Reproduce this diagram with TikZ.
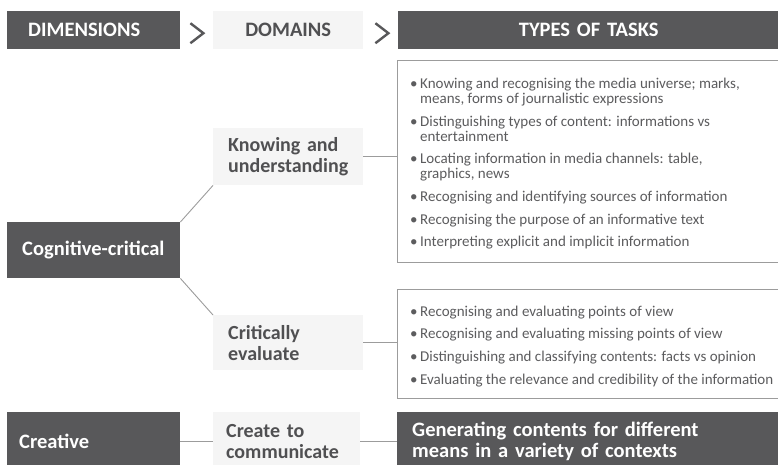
\documentclass[tikz,border=0pt]{standalone}
\usepackage{fontspec}
\setmainfont{Carlito}
\usepackage{tikz}
\usetikzlibrary{positioning,calc}
\definecolor{darkbox}{HTML}{58585A}
\definecolor{lightbox}{HTML}{F5F5F5}
\definecolor{boxtext}{HTML}{505052}
\definecolor{listtext}{HTML}{5C5C5E}
\definecolor{rulegray}{HTML}{9C9C9C}

\newenvironment{tasklist}{\begin{minipage}{368pt}\fontsize{15}{15}\selectfont\raggedright\setlength{\parskip}{7.7pt}\vspace*{5pt}}{\end{minipage}}
\newcommand{\taskitem}[1]{\par\hangindent=10pt\hangafter=1\noindent\makebox[10pt][l]{\textbullet}#1}

\begin{document}
\begin{tikzpicture}
[x=1pt,y=-1pt]
\tikzset{
	darkbox/.style = {rectangle, fill=darkbox, text=white, anchor=north west, inner ysep=0pt, align=left, font=\bfseries\fontsize{20.5}{21}\selectfont},
	lightbox/.style = {rectangle, fill=lightbox, text=boxtext, anchor=north west, inner ysep=0pt, align=left, font=\bfseries\fontsize{20}{20.7}\selectfont},
	listbox/.style = {rectangle, draw=rulegray, fill=white, text=listtext, anchor=north west, inner xsep=13pt, inner ysep=0pt},
	link/.style = {draw=rulegray, line width=0.9pt},
	chevron/.style = {draw=darkbox, line width=2.4pt, line join=miter}
}
\useasboundingbox (0,0) rectangle (778,464);

\node (dimhead) [darkbox, inner xsep=21pt, text width=131pt, minimum height=38pt] at (7,11) {DIMENSIONS};
\node (domhead) [lightbox, align=center, inner xsep=0pt, text width=150pt, minimum height=38pt, font=\bfseries\fontsize{20.5}{21}\selectfont] at (213,11) {DOMAINS};
\node (taskhead) [darkbox, align=center, inner xsep=0pt, text width=381pt, minimum height=38pt] at (398,11) {TYPES OF TASKS};

\draw [chevron] ($(dimhead.east)+(10,-7)$) -- ++(13,10) -- ++(-13,10);
\draw [chevron] ($(domhead.east)+(12,-7)$) -- ++(13,10) -- ++(-13,10);

\node (task1) [listbox, minimum height=202pt] at (397,60) {\begin{tasklist}
	\taskitem{Knowing and recognising the media universe; marks,\newline means, forms of journalistic expressions}
	\taskitem{Distinguishing types of content: informations vs\newline entertainment}
	\taskitem{Locating information in media channels: table,\newline graphics, news}
	\taskitem{Recognising and identifying sources of information}
	\taskitem{Recognising the purpose of an informative text}
	\taskitem{Interpreting explicit and implicit information}
\end{tasklist}};
\node (know) [lightbox, inner xsep=15pt, text width=120pt, minimum height=57pt] at (213,128) {Knowing and\\ understanding};
\node (cog) [darkbox, inner xsep=15pt, text width=143pt, minimum height=56pt] at (7,222) {\mbox{Cognitive-critical}};

\node (task2) [listbox, minimum height=109pt] at (397,289) {\begin{tasklist}
	\taskitem{Recognising and evaluating points of view}
	\taskitem{Recognising and evaluating missing points of view}
	\taskitem{Distinguishing and classifying contents: facts vs opinion}
	\taskitem{Evaluating the relevance and credibility of the information}
\end{tasklist}};
\node (crit) [lightbox, inner xsep=15pt, text width=120pt, minimum height=55pt] at (213,315) {Critically\\ evaluate};

\node (creat) [darkbox, inner xsep=12pt, text width=149pt, minimum height=58pt] at (7,412) {Creative};
\node (create) [lightbox, inner xsep=13pt, text width=121pt, minimum height=58pt] at (213,412) {Create to\\ communicate};
\node (gen) [darkbox, inner xsep=15pt, text width=351pt, minimum height=58pt] at (397,412) {Generating contents for different\\ means in a variety of contexts};

\draw [link] (cog.north east) -- (know.south west);
\draw [link] (cog.south east) -- (crit.north west);
\draw [link] (know.east) -- (know.east -| task1.west);
\draw [link] (crit.east) -- (crit.east -| task2.west);
\draw [link] (creat.east) -- (create.west);
\draw [link] (create.east) -- (create.east -| gen.west);
\end{tikzpicture}
\end{document}
